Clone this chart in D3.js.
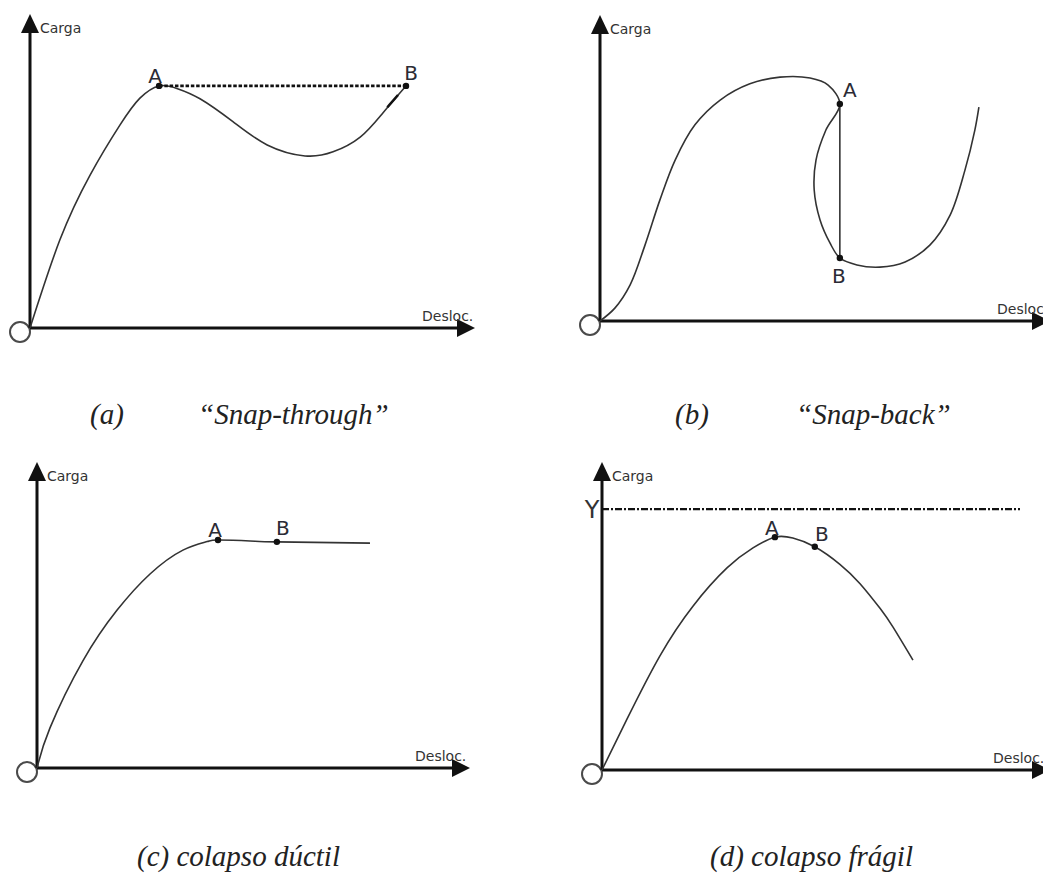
<!DOCTYPE html>
<html>
<head>
<meta charset="utf-8">
<script src="https://cdn.jsdelivr.net/npm/d3@7"></script>
<style>
  html, body { margin: 0; padding: 0; background: #fff; }
  svg { display: block; }
  .axis-label { font-family: "DejaVu Sans", sans-serif; font-size: 14px; fill: #333; }
  .pt-label { font-family: "DejaVu Sans", sans-serif; font-size: 20px; fill: #2b2b35; }
  .caption { font-family: "Liberation Serif", serif; font-style: italic; font-size: 29px; fill: #222; }
</style>
</head>
<body>
<svg id="chart" width="1043" height="879"></svg>
<script>
// Load–displacement paths, in axis units (0–100 on each axis).
const pathSnapThrough = [[0,0],[6.7,28],[13.5,48.7],[20.2,64.6],[24.7,73.2],[29,77.1],[33,76.3],[38.2,73],[45.6,65.7],[53.3,58.3],[61.8,54.8],[68.1,56.1],[74.2,60.8],[79.3,68.5],[84.5,77.1]];
const pathSnapBack = [[0,0],[3.3,4.2],[6.7,11.8],[10,24.8],[13.3,39.5],[16.7,52.6],[21.1,64.1],[26.7,72.2],[33.3,77.5],[40,79.7],[46.7,79.4],[50.7,77.1],[53.3,70.9],[50.2,62.4],[48,52.6],[47.6,42.8],[48.9,33],[51.1,25.5],[53.3,20.6],[57.1,18.3],[62.2,17.6],[67.8,19.3],[73.3,24.8],[77.8,34.6],[81.1,49.3],[83.3,62.4],[84.2,69.9]];
const pathDuctile = [[0,0],[3,13.1],[10.6,35],[18.5,51.6],[26.1,63.4],[33.7,71.2],[39.3,74],[41.8,74.5],[49.2,74.2],[55.4,73.9],[76.9,73.5]];
const pathBrittle = [[0,0],[5.6,16.6],[12.9,37],[20.3,53.2],[27.9,65.6],[33.7,72.1],[38.6,75.6],[42.6,75.3],[47.5,72.5],[53.1,66.8],[57.6,60.5],[62.1,52.4],[65,46.3],[69.4,35.7]];

// Marked states A and B on each path.
const pointsSnapThrough = [["A",29,77.1],["B",84.5,77.1]];
const pointsSnapBack = [["A",53.3,70.9],["B",53.3,20.6]];
const pointsDuctile = [["A",41.8,74.5],["B",55.4,73.9]];
const pointsBrittle = [["A",38.6,75.6],["B",47.5,72.5]];

// Jump between A and B (snap-through: horizontal, snap-back: vertical).
const jumpSnapThrough = [[29,77.1],[84.5,77.1]];
const jumpSnapBack = [[53.3,70.9],[53.3,20.6]];
// Short emphasised stretch on the rising branch before B.
const emphasisSnapThrough = [[80.3,70.3],[82.7,74.2]];
// Limit load Y on the brittle-collapse panel.
const limitLoadY = 84.7;
const limitLoadSpan = [0, 93.3];

const yAxisTitle = "Carga";
const xAxisTitle = "Desloc.";
const captionsLetter = ["(a)", "(b)"];
const captionsName = ["\u201CSnap-through\u201D", "\u201CSnap-back\u201D"];
const captionsFull = ["(c) colapso d\u00FActil", "(d) colapso fr\u00E1gil"];

const svg = d3.select("#chart");

// Panel frames: origin and axis lengths in pixels.
const frames = {
  a: {ox: 30,  oy: 328, w: 445, h: 314},
  b: {ox: 600, oy: 321, w: 450, h: 306},
  c: {ox: 37,  oy: 768, w: 433, h: 306},
  d: {ox: 602, oy: 770, w: 448, h: 308}
};

// Label offsets for A/B (pixels from the dot).
const labelOffsets = {
  a: [[-4,-3],[5,-6]],
  b: [[10,-7],[-1,25]],
  c: [[-3,-3],[6,-7]],
  d: [[-3,-2],[7,-6]]
};
const xTitleOffset = {a: 392, b: 397, c: 378, d: 391};

function drawPanel(key, path, curve) {
  const f = frames[key];
  const x = d3.scaleLinear().domain([0,100]).range([f.ox, f.ox + f.w]);
  const y = d3.scaleLinear().domain([0,100]).range([f.oy, f.oy - f.h]);
  const g = svg.append("g").attr("class", "panel-" + key);

  // origin circle
  g.append("circle")
    .attr("cx", x(0) - 10).attr("cy", y(0) + 4).attr("r", 10)
    .attr("fill", "none").attr("stroke", "#4a4a4a").attr("stroke-width", 2);

  // axes
  g.append("line")
    .attr("x1", x(0)).attr("y1", y(0)).attr("x2", x(0)).attr("y2", y(100) + 12)
    .attr("stroke", "#111").attr("stroke-width", 3);
  g.append("line")
    .attr("x1", x(0)).attr("y1", y(0)).attr("x2", x(100) - 12).attr("y2", y(0))
    .attr("stroke", "#111").attr("stroke-width", 3);
  // arrowheads
  const tx = x(0), ty = y(100);
  g.append("path")
    .attr("d", `M${tx},${ty} L${tx - 9},${ty + 19} L${tx + 9},${ty + 19} Z`)
    .attr("fill", "#111");
  const rx = x(100), ry = y(0);
  g.append("path")
    .attr("d", `M${rx},${ry} L${rx - 18},${ry - 9} L${rx - 18},${ry + 9} Z`)
    .attr("fill", "#111");

  // axis titles
  g.append("text").attr("class", "axis-label")
    .attr("x", tx + 10).attr("y", ty + 19).text(yAxisTitle);
  g.append("text").attr("class", "axis-label")
    .attr("x", x(0) + xTitleOffset[key]).attr("y", y(0) - 7).text(xAxisTitle);

  // equilibrium path
  const line = d3.line().x(d => x(d[0])).y(d => y(d[1])).curve(curve);
  g.append("path").datum(path)
    .attr("d", line)
    .attr("fill", "none").attr("stroke", "#333").attr("stroke-width", 1.6);

  return {g, x, y};
}

function drawPoints(key, ctx, points) {
  const {g, x, y} = ctx;
  g.selectAll("circle.pt").data(points).join("circle").attr("class", "pt")
    .attr("cx", d => x(d[1])).attr("cy", d => y(d[2])).attr("r", 3.2)
    .attr("fill", "#111");
  g.selectAll("text.pt-label").data(points).join("text").attr("class", "pt-label")
    .attr("text-anchor", "middle")
    .attr("x", (d, i) => x(d[1]) + labelOffsets[key][i][0])
    .attr("y", (d, i) => y(d[2]) + labelOffsets[key][i][1])
    .text(d => d[0]);
}

// (a) snap-through
const pa = drawPanel("a", pathSnapThrough, d3.curveNatural);
pa.g.append("path").datum(jumpSnapThrough)
  .attr("d", d3.line().x(d => pa.x(d[0])).y(d => pa.y(d[1])))
  .attr("stroke", "#111").attr("stroke-width", 2.6).attr("stroke-dasharray", "3.5,1.8").attr("fill", "none");
pa.g.append("path").datum(emphasisSnapThrough)
  .attr("d", d3.line().x(d => pa.x(d[0])).y(d => pa.y(d[1])))
  .attr("stroke", "#111").attr("stroke-width", 2.6).attr("fill", "none");
drawPoints("a", pa, pointsSnapThrough);

// (b) snap-back (path turns back on itself, so a parametric spline is used)
const pb = drawPanel("b", pathSnapBack, d3.curveCatmullRom.alpha(0.5));
pb.g.append("path").datum(jumpSnapBack)
  .attr("d", d3.line().x(d => pb.x(d[0])).y(d => pb.y(d[1])))
  .attr("stroke", "#333").attr("stroke-width", 1.6).attr("fill", "none");
drawPoints("b", pb, pointsSnapBack);

// (c) ductile collapse
const pc = drawPanel("c", pathDuctile, d3.curveNatural);
drawPoints("c", pc, pointsDuctile);

// (d) brittle collapse, with limit load Y
const pd = drawPanel("d", pathBrittle, d3.curveNatural);
pd.g.append("line")
  .attr("x1", pd.x(limitLoadSpan[0])).attr("x2", pd.x(limitLoadSpan[1]))
  .attr("y1", pd.y(limitLoadY)).attr("y2", pd.y(limitLoadY))
  .attr("stroke", "#111").attr("stroke-width", 2.4).attr("stroke-dasharray", "7,2,2,2");
pd.g.append("text")
  .attr("x", pd.x(0) - 10).attr("y", pd.y(limitLoadY) + 9)
  .attr("text-anchor", "middle")
  .style("font-family", "'DejaVu Sans', sans-serif").style("font-size", "24px").style("fill", "#333")
  .text("Y");
drawPoints("d", pd, pointsBrittle);

// captions
svg.append("text").attr("class", "caption").attr("x", 90).attr("y", 424).text(captionsLetter[0]);
svg.append("text").attr("class", "caption").attr("x", 198).attr("y", 424).text(captionsName[0]);
svg.append("text").attr("class", "caption").attr("x", 675).attr("y", 424).text(captionsLetter[1]);
svg.append("text").attr("class", "caption").attr("x", 796).attr("y", 424).text(captionsName[1]);
svg.append("text").attr("class", "caption").attr("x", 137).attr("y", 866).text(captionsFull[0]);
svg.append("text").attr("class", "caption").attr("x", 710).attr("y", 866).text(captionsFull[1]);
</script>
</body>
</html>
